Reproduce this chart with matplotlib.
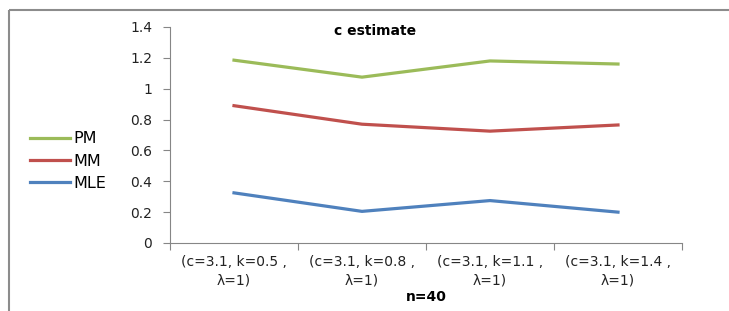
import matplotlib
matplotlib.use('Agg')
import matplotlib.pyplot as plt
from matplotlib.lines import Line2D

categories = ['(c=3.1, k=0.5 ,\nλ=1)', '(c=3.1, k=0.8 ,\nλ=1)',
              '(c=3.1, k=1.1 ,\nλ=1)', '(c=3.1, k=1.4 ,\nλ=1)']
pm = [1.185, 1.075, 1.18, 1.16]
mm = [0.89, 0.77, 0.725, 0.765]
mle = [0.325, 0.205, 0.275, 0.20]
yticks = [0, 0.2, 0.4, 0.6, 0.8, 1, 1.2, 1.4]
ytick_labels = ['0', '0.2', '0.4', '0.6', '0.8', '1', '1.2', '1.4']

plt.rcParams['font.family'] = ['DejaVu Sans']

fig = plt.figure(figsize=(7.29, 3.11), dpi=100)
# outer chart border (only top and left visible in the crop)
top = 1 - 10 / 311
left = 9 / 729
fig.lines.append(Line2D([left, 1.05], [top, top], transform=fig.transFigure,
                        color='#8c8c8c', lw=1.5, solid_capstyle='butt'))
fig.lines.append(Line2D([left, left], [-0.05, top], transform=fig.transFigure,
                        color='#8c8c8c', lw=1.5, solid_capstyle='butt'))

ax = fig.add_axes([170 / 729, 1 - 243 / 311, 512 / 729, 216 / 311])
x = [0.5, 1.5, 2.5, 3.5]
ax.plot(x, pm, color='#9bbb59', lw=2.3, label='PM')
ax.plot(x, mm, color='#c0504d', lw=2.3, label='MM')
ax.plot(x, mle, color='#4f81bd', lw=2.3, label='MLE')

ax.set_xlim(0, 4)
ax.set_ylim(0, 1.4)
ax.set_yticks(yticks)
ax.set_yticklabels(ytick_labels, fontsize=10, color='#222222')
ax.set_xticks([0, 1, 2, 3, 4])
ax.set_xticklabels([])
ax.set_xticks(x, minor=True)
ax.set_xticklabels(categories, minor=True, fontsize=10, color='#222222',
                   linespacing=1.35)
ax.tick_params(axis='x', which='minor', length=0, pad=9)
ax.tick_params(axis='x', which='major', length=5, color='#868686', direction='out')
ax.tick_params(axis='y', length=5, color='#868686', direction='out', pad=8)
for s in ['top', 'right']:
    ax.spines[s].set_visible(False)
for s in ['left', 'bottom']:
    ax.spines[s].set_color('#868686')

ax.set_xlabel('n=40', fontsize=10, fontweight='bold', labelpad=2)
fig.text(375 / 729, 1 - 31 / 311, 'c estimate', fontsize=10,
         fontweight='bold', ha='center', va='center')

fig.legend(loc='center left', bbox_to_anchor=(16 / 729, 1 - 161 / 311),
           frameon=False, fontsize=11.5, handlelength=2.5, handletextpad=0.2,
           labelspacing=0.45)

fig.savefig('out.png', dpi=100)
